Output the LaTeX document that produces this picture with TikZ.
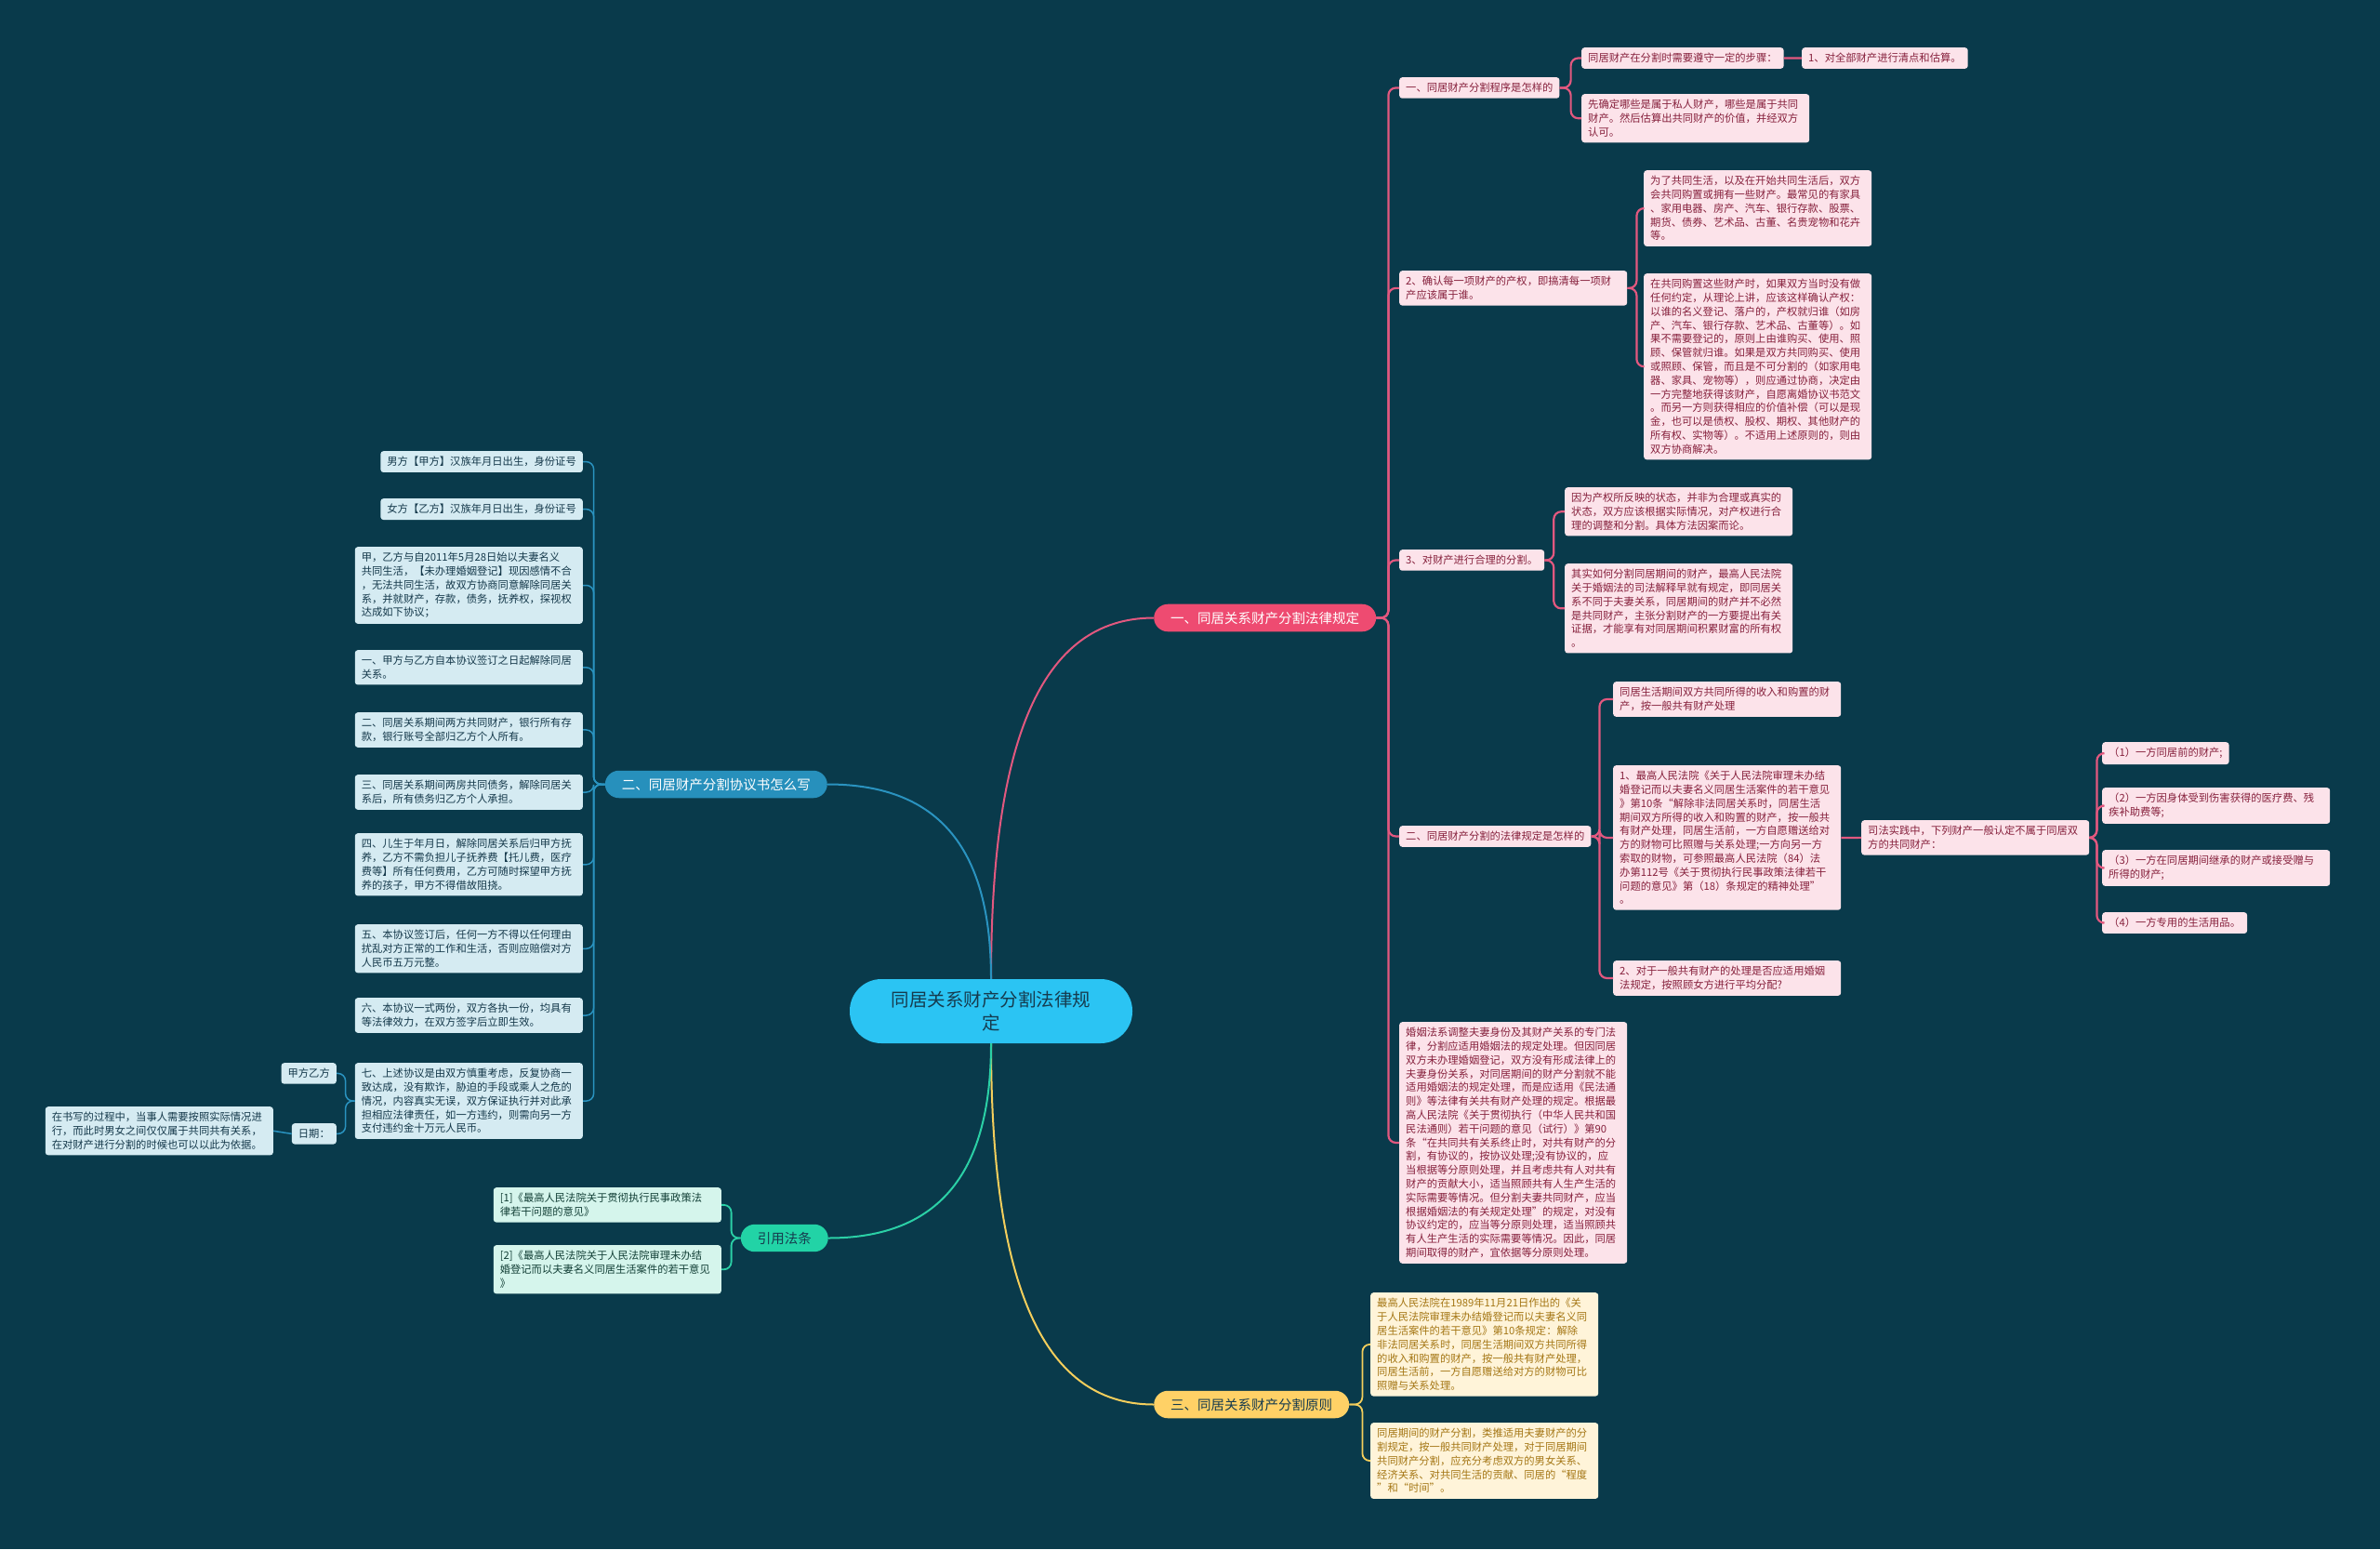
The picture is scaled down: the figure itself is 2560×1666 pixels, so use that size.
\documentclass[tikz,border=0pt]{standalone}
\usepackage{fontspec}
\setmainfont{Noto Sans CJK SC}
\definecolor{bg}{HTML}{093A4B}
\definecolor{cfill}{HTML}{2BC4F3}
\definecolor{ctext}{HTML}{163B4E}
\definecolor{pmain}{HTML}{EE4B71}
\definecolor{pline}{HTML}{E2587F}
\definecolor{pfill}{HTML}{FCE3EA}
\definecolor{ptext}{HTML}{86203C}
\definecolor{bmain}{HTML}{2790BC}
\definecolor{bline}{HTML}{2A93C0}
\definecolor{bfill}{HTML}{D5EBF2}
\definecolor{btext}{HTML}{14384A}
\definecolor{gmain}{HTML}{22D3A6}
\definecolor{gline}{HTML}{2BD0A6}
\definecolor{gfill}{HTML}{D5F5EC}
\definecolor{gtext}{HTML}{123F36}
\definecolor{ymain}{HTML}{FFD166}
\definecolor{yline}{HTML}{F4CE5C}
\definecolor{yfill}{HTML}{FFF4D9}
\definecolor{ytext}{HTML}{A47614}
\begin{document}
\begin{tikzpicture}[x=1pt,y=-1pt,
  sbox/.style={rounded corners=3pt, inner xsep=7pt, inner ysep=6pt, align=left,
    font=\fontsize{11.3}{14.8}\selectfont},
  wide/.style={text width=231pt},
  pbox/.style={sbox, fill=pfill, text=ptext, anchor=north west},
  bbox/.style={sbox, fill=bfill, text=btext, anchor=north east},
  gbox/.style={sbox, fill=gfill, text=gtext, anchor=north east},
  ybox/.style={sbox, fill=yfill, text=ytext, anchor=north west},
  lone/.style={rounded corners=15pt, inner xsep=18pt, inner ysep=8pt,
    font=\fontsize{14.5}{17}\selectfont},
  pl/.style={draw=pline, line width=2.2pt, rounded corners=8pt},
  bl/.style={draw=bline, line width=1.5pt, rounded corners=8pt},
  gl/.style={draw=gline, line width=1.8pt, rounded corners=8pt},
  yl/.style={draw=yline, line width=1.8pt, rounded corners=8pt},
]
\useasboundingbox (0,0) rectangle (2560,1666);
\fill[bg] (0,0) rectangle (2560,1666);

% ---------- centre ----------
\node[fill=cfill, text=ctext, rounded corners=34pt, minimum width=304pt, minimum height=69pt,
  align=center, font=\fontsize{19.5}{25}\selectfont] (C) at (1066,1087.5) {同居关系财产分割法律规\\定};

% ---------- level 1 ----------
\node[lone, fill=pmain, text=white, anchor=west] (L1) at (1241,664.5) {一、同居关系财产分割法律规定};
\node[lone, fill=bmain, text=white, anchor=east] (L2) at (890,843.5) {二、同居财产分割协议书怎么写};
\node[lone, fill=ymain, text=ctext, anchor=west] (L3) at (1241,1510.5) {三、同居关系财产分割原则};
\node[lone, fill=gmain, text=ctext, anchor=east] (L4) at (891,1331.5) {引用法条};

\draw[pline, line width=2pt] (C.north) .. controls (1066,800) and (1118,664.5) .. (L1.west);
\draw[bline, line width=2pt] (C.north) .. controls (1066,916) and (1013,843.5) .. (L2.east);
\draw[yline, line width=2pt] (C.south) .. controls (1066,1374) and (1118,1510.5) .. (L3.west);
\draw[gline, line width=2pt] (C.south) .. controls (1066,1258) and (1013,1331.5) .. (L4.east);

% ---------- section 1 (pink) ----------
\node[pbox] (N1a) at (1505,83) {一、同居财产分割程序是怎样的};
\node[pbox] (N1a1) at (1701,51) {同居财产在分割时需要遵守一定的步骤：};
\node[pbox] (N1a1a) at (1938,51) {1、对全部财产进行清点和估算。};
\node[pbox, wide] (N1a2) at (1701,101) {先确定哪些是属于私人财产，哪些是属于共同\\财产。然后估算出共同财产的价值，并经双方\\认可。};

\node[pbox, wide] (N1b) at (1505,291) {2、确认每一项财产的产权，即搞清每一项财\\产应该属于谁。};
\node[pbox, wide] (N1b1) at (1768,183) {为了共同生活，以及在开始共同生活后，双方\\会共同购置或拥有一些财产。最常见的有家具\\、家用电器、房产、汽车、银行存款、股票、\\期货、债券、艺术品、古董、名贵宠物和花卉\\等。};
\node[pbox, wide] (N1b2) at (1768,294) {在共同购置这些财产时，如果双方当时没有做\\任何约定，从理论上讲，应该这样确认产权：\\以谁的名义登记、落户的，产权就归谁（如房\\产、汽车、银行存款、艺术品、古董等）。如\\果不需要登记的，原则上由谁购买、使用、照\\顾、保管就归谁。如果是双方共同购买、使用\\或照顾、保管，而且是不可分割的（如家用电\\器、家具、宠物等），则应通过协商，决定由\\一方完整地获得该财产，自愿离婚协议书范文\\。而另一方则获得相应的价值补偿（可以是现\\金，也可以是债权、股权、期权、其他财产的\\所有权、实物等）。不适用上述原则的，则由\\双方协商解决。};

\node[pbox] (N1c) at (1505,591) {3、对财产进行合理的分割。};
\node[pbox, wide] (N1c1) at (1683,524) {因为产权所反映的状态，并非为合理或真实的\\状态，双方应该根据实际情况，对产权进行合\\理的调整和分割。具体方法因案而论。};
\node[pbox, wide] (N1c2) at (1683,606) {其实如何分割同居期间的财产，最高人民法院\\关于婚姻法的司法解释早就有规定，即同居关\\系不同于夫妻关系，同居期间的财产并不必然\\是共同财产，主张分割财产的一方要提出有关\\证据，才能享有对同居期间积累财富的所有权\\。};

\node[pbox] (N1d) at (1505,888) {二、同居财产分割的法律规定是怎样的};
\node[pbox, wide] (N1d1) at (1735,733) {同居生活期间双方共同所得的收入和购置的财\\产，按一般共有财产处理};
\node[pbox, wide] (N1d2) at (1735,823) {1、最高人民法院《关于人民法院审理未办结\\婚登记而以夫妻名义同居生活案件的若干意见\\》第10条“解除非法同居关系时，同居生活\\期间双方所得的收入和购置的财产，按一般共\\有财产处理，同居生活前，一方自愿赠送给对\\方的财物可比照赠与关系处理;一方向另一方\\索取的财物，可参照最高人民法院（84）法\\办第112号《关于贯彻执行民事政策法律若干\\问题的意见》第（18）条规定的精神处理”\\。};
\node[pbox, wide] (N1d2a) at (2002,882) {司法实践中，下列财产一般认定不属于同居双\\方的共同财产：};
\node[pbox] (N1d2a1) at (2261,798) {（1）一方同居前的财产;};
\node[pbox, wide] (N1d2a2) at (2261,847) {（2）一方因身体受到伤害获得的医疗费、残\\疾补助费等;};
\node[pbox, wide] (N1d2a3) at (2261,914) {（3）一方在同居期间继承的财产或接受赠与\\所得的财产;};
\node[pbox] (N1d2a4) at (2261,981) {（4）一方专用的生活用品。};
\node[pbox, wide] (N1d3) at (1735,1033) {2、对于一般共有财产的处理是否应适用婚姻\\法规定，按照顾女方进行平均分配?};

\node[pbox, wide] (N1e) at (1505,1099) {婚姻法系调整夫妻身份及其财产关系的专门法\\律，分割应适用婚姻法的规定处理。但因同居\\双方未办理婚姻登记，双方没有形成法律上的\\夫妻身份关系，对同居期间的财产分割就不能\\适用婚姻法的规定处理，而是应适用《民法通\\则》等法律有关共有财产处理的规定。根据最\\高人民法院《关于贯彻执行（中华人民共和国\\民法通则）若干问题的意见（试行）》第90\\条“在共同共有关系终止时，对共有财产的分\\割，有协议的，按协议处理;没有协议的，应\\当根据等分原则处理，并且考虑共有人对共有\\财产的贡献大小，适当照顾共有人生产生活的\\实际需要等情况。但分割夫妻共同财产，应当\\根据婚姻法的有关规定处理”的规定，对没有\\协议约定的，应当等分原则处理，适当照顾共\\有人生产生活的实际需要等情况。因此，同居\\期间取得的财产，宜依据等分原则处理。};

\foreach \c in {N1a,N1b,N1c,N1d,N1e} \draw[pl] (L1.east) -- ++(13,0) |- (\c.west);
\foreach \c in {N1a1,N1a2} \draw[pl] (N1a.east) -- ++(12,0) |- (\c.west);
\draw[pl] (N1a1.east) -- (N1a1a.west);
\foreach \c in {N1b1,N1b2} \draw[pl] (N1b.east) -- ++(10,0) |- (\c.west);
\foreach \c in {N1c1,N1c2} \draw[pl] (N1c.east) -- ++(10,0) |- (\c.west);
\foreach \c in {N1d1,N1d2,N1d3} \draw[pl] (N1d.east) -- ++(9,0) |- (\c.west);
\draw[pl] (N1d2.east) -- (N1d2a.west);
\foreach \c in {N1d2a1,N1d2a2,N1d2a3,N1d2a4} \draw[pl] (N1d2a.east) -- ++(8,0) |- (\c.west);

% ---------- section 3 (yellow) ----------
\node[ybox, wide] (N3a) at (1474,1390) {最高人民法院在1989年11月21日作出的《关\\于人民法院审理未办结婚登记而以夫妻名义同\\居生活案件的若干意见》第10条规定：解除\\非法同居关系时，同居生活期间双方共同所得\\的收入和购置的财产，按一般共有财产处理，\\同居生活前，一方自愿赠送给对方的财物可比\\照赠与关系处理。};
\node[ybox, wide] (N3b) at (1474,1530) {同居期间的财产分割，类推适用夫妻财产的分\\割规定，按一般共同财产处理，对于同居期间\\共同财产分割，应充分考虑双方的男女关系、\\经济关系、对共同生活的贡献、同居的“程度\\”和“时间”。};
\foreach \c in {N3a,N3b} \draw[yl] (L3.east) -- ++(14,0) |- (\c.west);

% ---------- section 2 (blue, left) ----------
\node[bbox] (B1) at (627,485) {男方【甲方】汉族年月日出生，身份证号};
\node[bbox] (B2) at (627,536) {女方【乙方】汉族年月日出生，身份证号};
\node[bbox, wide] (B3) at (627,588) {甲，乙方与自2011年5月28日始以夫妻名义\\共同生活，【未办理婚姻登记】现因感情不合\\，无法共同生活，故双方协商同意解除同居关\\系，并就财产，存款，债务，抚养权，探视权\\达成如下协议；};
\node[bbox, wide] (B4) at (627,699) {一、甲方与乙方自本协议签订之日起解除同居\\关系。};
\node[bbox, wide] (B5) at (627,766) {二、同居关系期间两方共同财产，银行所有存\\款，银行账号全部归乙方个人所有。};
\node[bbox, wide] (B6) at (627,833) {三、同居关系期间两房共同债务，解除同居关\\系后，所有债务归乙方个人承担。};
\node[bbox, wide] (B7) at (627,896) {四、儿生于年月日，解除同居关系后归甲方抚\\养，乙方不需负担儿子抚养费【托儿费，医疗\\费等】所有任何费用，乙方可随时探望甲方抚\\养的孩子，甲方不得借故阻挠。};
\node[bbox, wide] (B8) at (627,994) {五、本协议签订后，任何一方不得以任何理由\\扰乱对方正常的工作和生活，否则应赔偿对方\\人民币五万元整。};
\node[bbox, wide] (B9) at (627,1073) {六、本协议一式两份，双方各执一份，均具有\\等法律效力，在双方签字后立即生效。};
\node[bbox, wide] (B10) at (627,1143) {七、上述协议是由双方慎重考虑，反复协商一\\致达成，没有欺诈，胁迫的手段或乘人之危的\\情况，内容真实无误，双方保证执行并对此承\\担相应法律责任，如一方违约，则需向另一方\\支付违约金十万元人民币。};
\node[bbox] (B10a) at (362,1143) {甲方乙方};
\node[bbox] (B10b) at (362,1208) {日期：};
\node[bbox, wide] (B10b1) at (294,1190) {在书写的过程中，当事人需要按照实际情况进\\行，而此时男女之间仅仅属于共同共有关系，\\在对财产进行分割的时候也可以以此为依据。};

\foreach \c in {B1,B2,B3,B4,B5,B6,B7,B8,B9,B10} \draw[bl] (L2.west) -- ++(-12,0) |- (\c.east);
\foreach \c in {B10a,B10b} \draw[bl] (B10.west) -- ++(-10,0) |- (\c.east);
\draw[bl] (B10b.west) -- (B10b1.east);

% ---------- citations (green, left) ----------
\node[gbox, wide] (G1) at (776,1277) {[1]《最高人民法院关于贯彻执行民事政策法\\律若干问题的意见》};
\node[gbox, wide] (G2) at (776,1339) {[2]《最高人民法院关于人民法院审理未办结\\婚登记而以夫妻名义同居生活案件的若干意见\\》};
\foreach \c in {G1,G2} \draw[gl] (L4.west) -- ++(-10,0) |- (\c.east);
\end{tikzpicture}
\end{document}
